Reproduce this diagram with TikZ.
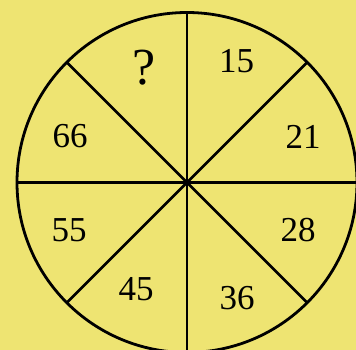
\documentclass[tikz,border=0pt]{standalone}
\usepackage{fontspec}
\setmainfont{Liberation Serif}
\definecolor{bg}{RGB}{238,228,114}
\begin{document}
\begin{tikzpicture}[x=1pt,y=1pt,
  spoke/.style={line width=2.8pt,black},
  num/.style={font=\fontsize{35}{35}\selectfont,inner sep=0pt,anchor=center}]
\useasboundingbox (0,0) rectangle (356,350);
\clip (0,0) rectangle (356,350);
\fill[bg] (0,0) rectangle (356,350);
\coordinate (c) at (187,167.5);
\draw[spoke] (c) circle (170);
\foreach \a in {0,45,...,315}{
  \draw[spoke] (c) -- ++(\a:170);
}
\node[num,font=\fontsize{52}{52}\selectfont] (q) at (144,282) {?};
\node[num] (n15) at (236.5,288.5) {15};
\node[num] (n21) at (303,213) {21};
\node[num] (n28) at (298,120) {28};
\node[num] (n36) at (237,52) {36};
\node[num] (n45) at (136,61) {45};
\node[num] (n55) at (69,120) {55};
\node[num] (n66) at (70,214) {66};
\end{tikzpicture}
\end{document}
